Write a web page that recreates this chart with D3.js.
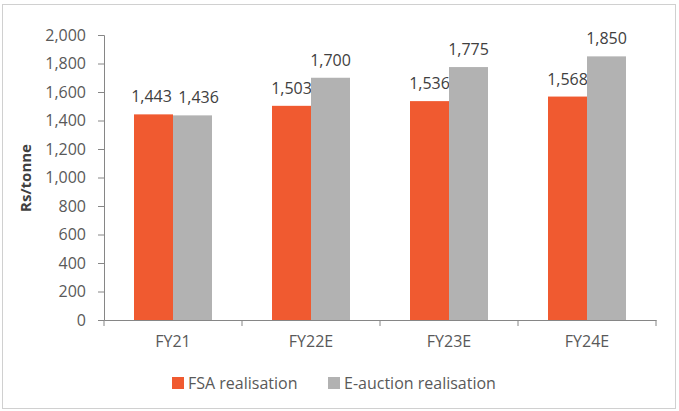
<!DOCTYPE html>
<html>
<head>
<meta charset="utf-8">
<script src="https://cdn.jsdelivr.net/npm/d3@7/dist/d3.min.js"></script>
<style>
  body { margin: 0; background: #fff; }
  svg text { font-family: "Open Sans", sans-serif; }
</style>
</head>
<body>
<svg id="chart" width="679" height="411"></svg>
<script>
const categories = ["FY21", "FY22E", "FY23E", "FY24E"];
const fsaValues = [1443, 1503, 1536, 1568];
const auctionValues = [1436, 1700, 1775, 1850];
const seriesNames = ["FSA realisation", "E-auction realisation"];
const yTicks = [0, 200, 400, 600, 800, 1000, 1200, 1400, 1600, 1800, 2000];

const colors = ["#F05A30", "#B2B2B2"];
const svg = d3.select("#chart");

// outer frame
svg.append("rect").attr("x", 2.5).attr("y", 4.5).attr("width", 673).attr("height", 404)
  .attr("fill", "none").attr("stroke", "#D0D0D0");

const m = { left: 104, right: 656, top: 35, bottom: 320 };
const x = d3.scaleBand().domain(categories).range([m.left, m.right]).paddingInner(0).paddingOuter(0);
const y = d3.scaleLinear().domain([0, 2000]).range([m.bottom, m.top]);
const inner = d3.scaleBand().domain([0, 1]).range([30, x.bandwidth() - 30]);
const fs = "16px";

// y axis
const yAxis = svg.append("g").attr("transform", `translate(${m.left},0)`)
  .call(d3.axisLeft(y).tickValues(yTicks).tickSize(6).tickPadding(12).tickFormat(d3.format(",")));
yAxis.select(".domain").attr("stroke", "#868686");
yAxis.selectAll(".tick line").attr("stroke", "#868686");
yAxis.selectAll("text").attr("fill", "#595959").style("font-size", fs);

// bars
const series = [fsaValues, auctionValues];
series.forEach((vals, s) => {
  svg.append("g").selectAll("rect").data(vals).join("rect")
    .attr("x", (d, i) => x(categories[i]) + inner(s))
    .attr("width", inner.bandwidth())
    .attr("y", d => y(d))
    .attr("height", d => y(0) - y(d))
    .attr("fill", colors[s]);
  svg.append("g").selectAll("text").data(vals).join("text")
    .attr("x", (d, i) => x(categories[i]) + inner(s) + inner.bandwidth() / 2)
    // labels at nearly the same height get pushed apart, like excel does
    .attr("dx", (d, i) => Math.abs(y(fsaValues[i]) - y(auctionValues[i])) < 14 ? (s ? 6 : -2) : 0)
    .attr("y", d => y(d) - 12)
    .attr("text-anchor", "middle")
    .attr("fill", "#404040")
    .style("font-size", fs)
    .text(d => d3.format(",")(d));
});

// x axis
const xAxis = svg.append("g").attr("transform", `translate(0,${m.bottom})`)
  .call(d3.axisBottom(x).tickSize(0).tickPadding(16));
xAxis.select(".domain").attr("stroke", "#868686");
xAxis.selectAll("text").attr("fill", "#595959").style("font-size", fs);
svg.append("g").selectAll("line").data(categories.concat([null])).join("line")
  .attr("x1", (d, i) => m.left + i * x.bandwidth()).attr("x2", (d, i) => m.left + i * x.bandwidth())
  .attr("y1", m.bottom).attr("y2", m.bottom + 6).attr("stroke", "#868686");

// y label
svg.append("text").attr("transform", "translate(31,178) rotate(-90)")
  .attr("text-anchor", "middle").attr("fill", "#404040")
  .style("font-size", "15px").style("font-weight", "bold").text("Rs/tonne");

// legend
const legX = [172, 328];
seriesNames.forEach((n, i) => {
  svg.append("rect").attr("x", legX[i]).attr("y", 377).attr("width", 12).attr("height", 12).attr("fill", colors[i]);
  svg.append("text").attr("x", legX[i] + 16).attr("y", 389).attr("fill", "#595959")
    .style("font-size", fs).text(n);
});
</script>
</body>
</html>
